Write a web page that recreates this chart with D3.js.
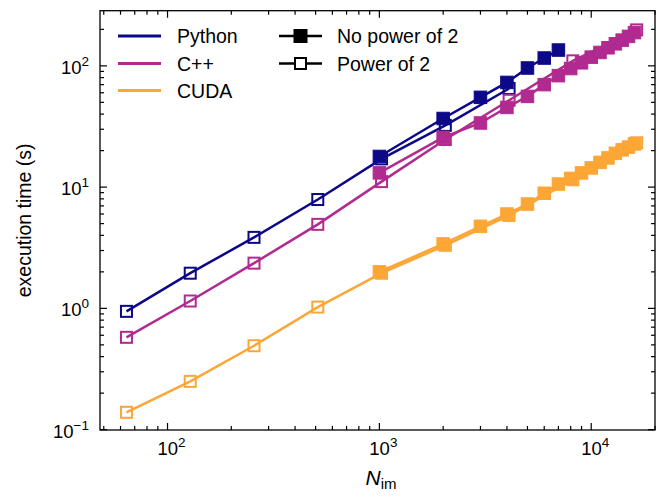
<!DOCTYPE html>
<html>
<head>
<meta charset="utf-8">
<script src="https://cdn.jsdelivr.net/npm/d3@7"></script>
<style>
  body { margin: 0; background: #fff; }
  svg { font-family: "Liberation Sans", Arial, Helvetica, sans-serif; }
</style>
</head>
<body>
<svg width="657" height="497"></svg>
<script>
// image counts
var pow2N = [64, 128, 256, 512, 1024, 2048, 4096, 8192, 16384];
var noPow2N = [1000, 2000, 3000, 4000, 5000, 6000, 7000, 8000, 9000, 10000, 11000, 12000, 13000, 14000, 15000, 16000];

// execution times (s), power of 2
var pythonPow2 = [0.945, 1.95, 3.85, 7.9, 17.1, 32.3, 65];
var cppPow2 = [0.577, 1.15, 2.36, 4.93, 11.1, 24.7, 52, 110, 198];
var cudaPow2 = [0.139, 0.25, 0.492, 1.025, 1.95, 3.31, 5.84, 11.5, 23.2];

// execution times (s), no power of 2
var pythonNoPow2 = [17.9, 36.8, 55, 73, 96, 116, 135];
var cppNoPow2 = [13.1, 25.7, 33.8, 45.4, 56, 70, 83, 95, 106, 118, 129, 141, 152, 163, 175, 188];
var cudaNoPow2 = [2.0, 3.4, 4.75, 6.0, 7.25, 8.9, 10.6, 11.8, 13.1, 14.4, 16.0, 17.4, 19.0, 20.3, 21.4, 22.7];

var implNames = ["Python", "C++", "CUDA"];
var implColors = ["#0d0887", "#b12a90", "#fca636"];
var markerNames = ["No power of 2", "Power of 2"];

var svg = d3.select("svg");
// plot box (note: "top" is taken by window.top)
var x0 = 100, x1 = 655, y0 = 10.7, y1 = 430;

var x = d3.scaleLog().domain([48, 20000]).range([x0, x1]);
var y = d3.scaleLog().domain([0.0993, 285]).range([y1, y0]);

var line = d3.line()
    .x(function(d) { return x(d[0]); })
    .y(function(d) { return y(d[1]); });

var series = [
    { name: "Python", n: pow2N, t: pythonPow2, filled: false },
    { name: "Python", n: noPow2N, t: pythonNoPow2, filled: true },
    { name: "C++", n: pow2N, t: cppPow2, filled: false },
    { name: "C++", n: noPow2N, t: cppNoPow2, filled: true },
    { name: "CUDA", n: pow2N, t: cudaPow2, filled: false },
    { name: "CUDA", n: noPow2N, t: cudaNoPow2, filled: true }
];

var plot = svg.append("g").attr("class", "plot");

series.forEach(function(s) {
    var col = implColors[implNames.indexOf(s.name)];
    var pts = s.t.map(function(v, i) { return [s.n[i], v]; });
    var half = s.filled ? 6.25 : 5.5;
    var g = plot.append("g");
    g.append("path")
        .attr("d", line(pts))
        .attr("fill", "none")
        .attr("stroke", col)
        .attr("stroke-width", 2.5);
    g.selectAll("rect")
        .data(pts)
        .enter()
        .append("rect")
            .attr("x", function(d) { return x(d[0]) - half; })
            .attr("y", function(d) { return y(d[1]) - half; })
            .attr("width", half * 2)
            .attr("height", half * 2)
            .attr("fill", s.filled ? col : "none")
            .attr("stroke", col)
            .attr("stroke-width", s.filled ? 1 : 2);
});

// ticks, inward on all four sides
function decadeTicks(scale) {
    var d = scale.domain();
    var major = [], minor = [];
    for (var e = Math.floor(Math.log10(d[0])); e <= Math.ceil(Math.log10(d[1])); e++) {
        for (var m = 1; m < 10; m++) {
            var v = m * Math.pow(10, e);
            if (v < d[0] * 0.999 || v > d[1] * 1.001) continue;
            if (m == 1) major.push(v); else minor.push(v);
        }
    }
    return { major: major, minor: minor };
}

var xt = decadeTicks(x), yt = decadeTicks(y);
var ticks = svg.append("g").attr("stroke", "#000").attr("stroke-width", 1.2);

[[xt.major, 7], [xt.minor, 4]].forEach(function(p) {
    ticks.selectAll(null).data(p[0]).enter().append("line")
        .attr("x1", x).attr("x2", x)
        .attr("y1", y1).attr("y2", y1 - p[1]);
    ticks.selectAll(null).data(p[0]).enter().append("line")
        .attr("x1", x).attr("x2", x)
        .attr("y1", y0).attr("y2", y0 + p[1]);
});
[[yt.major, 7], [yt.minor, 4]].forEach(function(p) {
    ticks.selectAll(null).data(p[0]).enter().append("line")
        .attr("y1", y).attr("y2", y)
        .attr("x1", x0).attr("x2", x0 + p[1]);
    ticks.selectAll(null).data(p[0]).enter().append("line")
        .attr("y1", y).attr("y2", y)
        .attr("x1", x1).attr("x2", x1 - p[1]);
});

svg.append("rect")
    .attr("x", x0).attr("y", y0)
    .attr("width", x1 - x0).attr("height", y1 - y0)
    .attr("fill", "none")
    .attr("stroke", "#000")
    .attr("stroke-width", 1.3);

// tick labels as 10^n
function powLabel(sel, v) {
    var e = Math.round(Math.log10(v));
    sel.append("tspan").text("10");
    sel.append("tspan")
        .attr("font-size", 13.5)
        .attr("dy", -8)
        .text(e < 0 ? "\u2212" + (-e) : e);
}

xt.major.forEach(function(v) {
    var t = svg.append("text")
        .attr("x", x(v) + 4)
        .attr("y", 455)
        .attr("text-anchor", "middle")
        .attr("font-size", 18.5);
    powLabel(t, v);
});

yt.major.forEach(function(v) {
    var t = svg.append("text")
        .attr("x", 89)
        .attr("y", y(v) + 8)
        .attr("text-anchor", "end")
        .attr("font-size", 18.5);
    powLabel(t, v);
});

// axis titles
svg.append("text")
    .attr("transform", "translate(31," + ((y0 + y1) / 2) + ") rotate(-90)")
    .attr("text-anchor", "middle")
    .attr("font-size", 19.5)
    .text("execution time (s)");

var xl = svg.append("text")
    .attr("x", 381)
    .attr("y", 485)
    .attr("text-anchor", "middle")
    .attr("font-size", 21);
xl.append("tspan").attr("font-style", "italic").text("N");
xl.append("tspan").attr("font-size", 15).attr("dy", 4).text("im");

// legend
var legend = svg.append("g").attr("class", "legend").attr("font-size", 19.5);
var rowY = [36, 63.5, 90.5];

implNames.forEach(function(name, i) {
    legend.append("line")
        .attr("x1", 118).attr("x2", 161)
        .attr("y1", rowY[i]).attr("y2", rowY[i])
        .attr("stroke", implColors[i])
        .attr("stroke-width", 3);
    legend.append("text")
        .attr("x", 177).attr("y", rowY[i] + 7)
        .text(name);
});

markerNames.forEach(function(name, i) {
    legend.append("line")
        .attr("x1", 279).attr("x2", 322)
        .attr("y1", rowY[i]).attr("y2", rowY[i])
        .attr("stroke", "#000")
        .attr("stroke-width", 2.5);
    legend.append("rect")
        .attr("x", i == 0 ? 294 : 295).attr("y", rowY[i] - (i == 0 ? 6.5 : 5.5))
        .attr("width", i == 0 ? 13 : 11).attr("height", i == 0 ? 13 : 11)
        .attr("fill", i == 0 ? "#000" : "#fff")
        .attr("stroke", "#000")
        .attr("stroke-width", i == 0 ? 1 : 2);
    legend.append("text")
        .attr("x", 337).attr("y", rowY[i] + 7)
        .text(name);
});
</script>
</body>
</html>
